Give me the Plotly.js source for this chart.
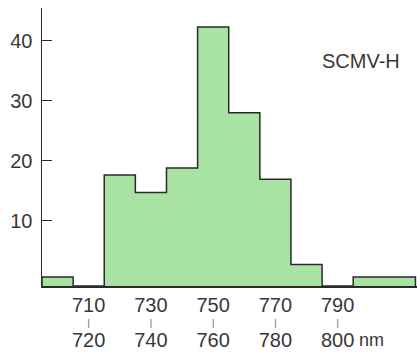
<!DOCTYPE html>
<html>
<head>
<meta charset="utf-8">
<script src="https://cdn.plot.ly/plotly-3.0.1.min.js"></script>
<style>html,body{margin:0;padding:0;background:#fff;}#chart{width:417px;height:352px;}</style>
</head>
<body>
<div id="chart"></div>
<script>
// Bin edges (nm) and counts per bin
var binEdges = [700, 710, 720, 730, 740, 750, 760, 770, 780, 790, 800, 820];
var binCounts = [0.6, 0, 17.6, 14.7, 18.8, 42.3, 28, 16.9, 2.7, 0, 0.6];
// Tick labels (range pairs) and their bin-pair centres
var tickLow = ["710", "730", "750", "770", "790"];
var tickHigh = ["720", "740", "760", "780", "800"];
var tickCenters = [715, 735, 755, 775, 795];
var seriesLabel = "SCMV-H";
var unitLabel = "nm";

var BASE = -0.88; // bottom of y axis (below zero)
var xs = [binEdges[0]], ys = [BASE];
for (var i = 0; i < binCounts.length; i++) {
  xs.push(binEdges[i]);
  ys.push(binCounts[i] > 0 ? binCounts[i] : BASE);
}
xs.push(binEdges[binEdges.length - 1]);
ys.push(BASE);

var fam = '"Liberation Sans", Arial, sans-serif';
var txt = '#383838';
var XR = [700, 820.5];

var trace = {
  type: 'scatter', mode: 'lines', x: xs, y: ys,
  line: {shape: 'hv', color: '#2a2a2a', width: 1.5},
  fill: 'toself', fillcolor: '#a9e3a3',
  hoverinfo: 'skip', showlegend: false
};
// invisible helpers so the overlaid label axes are drawn
var h2 = {type: 'scatter', mode: 'none', x: [XR[0]], y: [0], xaxis: 'x2', hoverinfo: 'skip', showlegend: false};
var h3 = {type: 'scatter', mode: 'none', x: [XR[0]], y: [0], xaxis: 'x3', hoverinfo: 'skip', showlegend: false};

function labelAxis(texts, size, standoff, color) {
  return {
    overlaying: 'x', side: 'bottom', anchor: 'y', range: XR,
    showgrid: false, zeroline: false, showline: false, ticks: '',
    tickvals: tickCenters, ticktext: texts, ticklabelstandoff: standoff,
    tickfont: {family: fam, size: size, color: color}
  };
}

var layout = {
  width: 417, height: 352,
  margin: {l: 42, r: 0, t: 8, b: 66},
  paper_bgcolor: '#fff', plot_bgcolor: '#fff',
  font: {family: fam, color: txt},
  showlegend: false,
  xaxis: {
    range: XR, showgrid: false, zeroline: false,
    showline: true, linecolor: '#2a2a2a', linewidth: 1.5,
    ticks: '', tickvals: tickCenters, ticktext: tickLow,
    tickfont: {family: fam, size: 20, color: txt}
  },
  xaxis2: labelAxis(tickCenters.map(function () { return '|'; }), 9, 30, '#555555'),
  xaxis3: labelAxis(tickHigh, 20, 40, txt),
  yaxis: {
    range: [BASE, 45.45], showgrid: false, zeroline: false,
    showline: true, linecolor: '#2a2a2a', linewidth: 1.5,
    ticks: 'inside', ticklen: 10, tickwidth: 1.2, tickcolor: '#2a2a2a',
    tickvals: [10, 20, 30, 40], ticklabelstandoff: 4,
    tickfont: {family: fam, size: 20, color: txt}
  },
  annotations: [
    {text: seriesLabel, xref: 'paper', yref: 'paper', x: 0.85, y: 0.81,
     xanchor: 'center', yanchor: 'middle', showarrow: false,
     font: {family: fam, size: 20, color: txt}},
    {text: unitLabel, xref: 'paper', yref: 'paper', x: 0.84, y: -0.195,
     xanchor: 'left', yanchor: 'middle', showarrow: false,
     font: {family: fam, size: 18, color: txt}}
  ]
};

Plotly.newPlot('chart', [trace, h2, h3], layout, {displayModeBar: false, staticPlot: true});
</script>
</body>
</html>
